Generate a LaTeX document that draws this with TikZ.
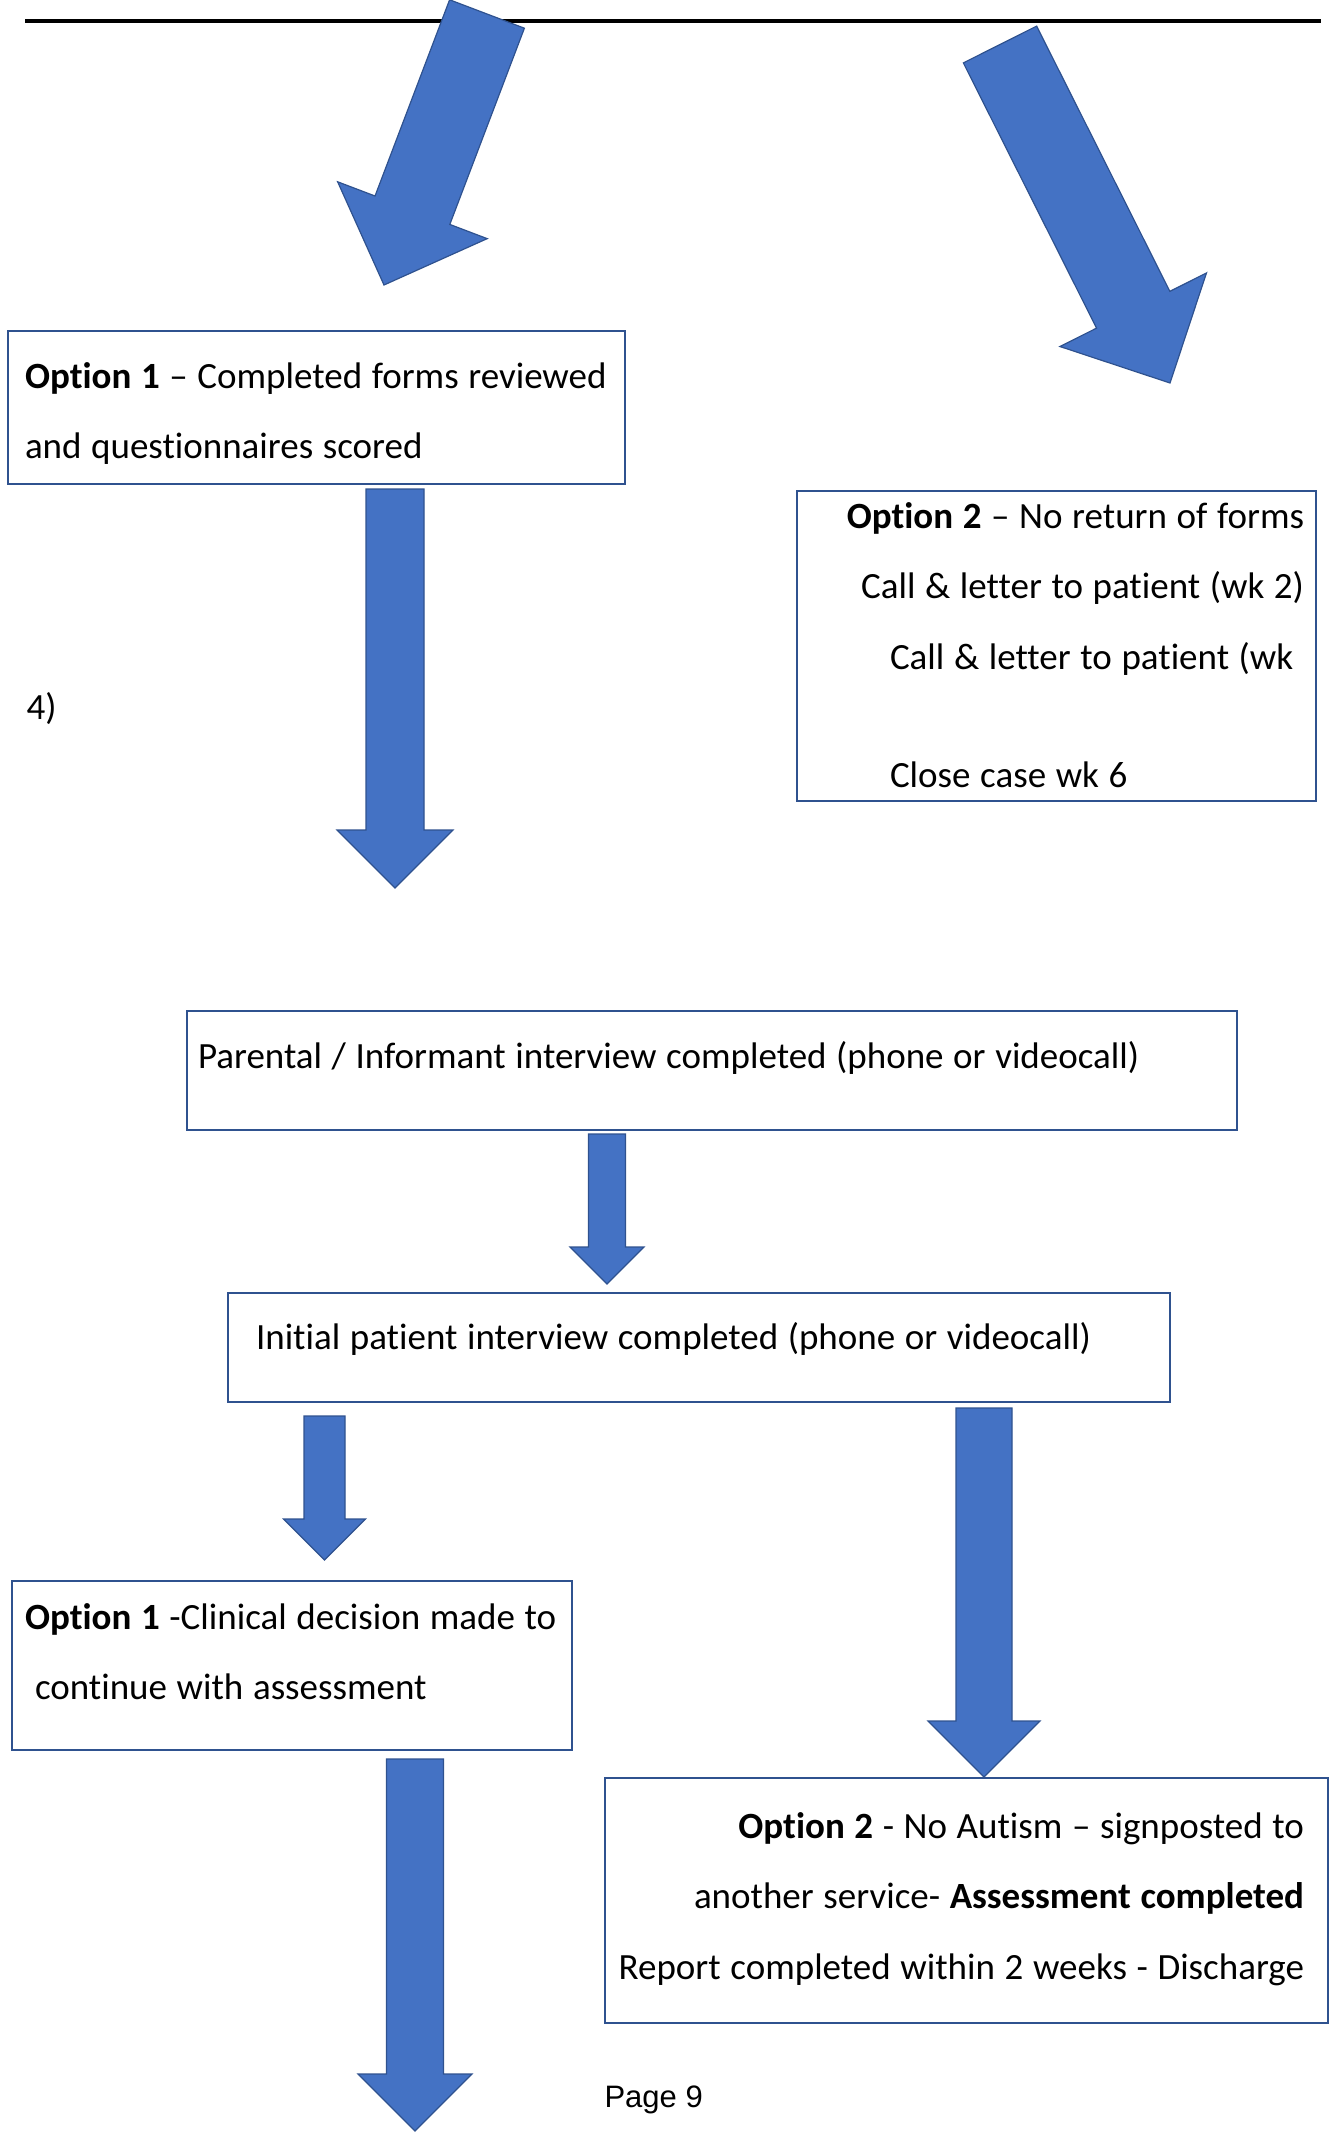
\documentclass[tikz,border=0pt]{standalone}
\usepackage{fontspec}
\setmainfont{Carlito}[Ligatures={TeX,NoCommon}]
\newfontfamily\arialfont{Liberation Sans}
\usetikzlibrary{calc}
\definecolor{cBlue}{HTML}{4472C4}
\definecolor{cEdge}{HTML}{2F528F}
\newcommand{\flowfont}{\fontsize{37}{70.5}\selectfont}
\tikzset{
  flowbox/.style={draw=cEdge,line width=2pt,fill=white,anchor=north west,inner ysep=0pt,font=\flowfont,
    execute at begin node={\spaceskip=0.26em\xspaceskip=0.26em\relax}},
  barrow/.style={fill=cBlue,draw=cEdge,line width=1.2pt,line join=miter},
  loose/.style={anchor=base west,font=\flowfont},
}
\begin{document}
\begin{tikzpicture}[x=1pt,y=-1pt]
  \useasboundingbox (0,0) rectangle (1330,2132);
  \coordinate (rulel) at (25,21);
  \coordinate (ruler) at (1321,21);
  \draw[line width=3.5pt] (rulel) -- (ruler);

  \node[flowbox,align=left,inner xsep=17pt,text width=583pt,text height=57pt,text depth=96pt] (opt1) at (7,330)
    {\mbox{\textbf{Option 1} -- Completed forms reviewed}\\and questionnaires scored};
  \node[flowbox,align=left,inner xsep=12pt,text width=495pt,text height=37pt,text depth=273pt] (opt2) at (796,490)
    {\hspace*{\fill}\mbox{\textbf{Option 2} -- No return of forms}\\
     \hspace*{\fill}\mbox{Call \& letter to patient (wk 2)}\\
     \hspace*{81pt}\mbox{Call \& letter to patient (wk}\\[47.5pt]
     \hspace*{81pt}Close case wk 6};
  \node[loose] (wkfour) at (23,719) {4)};
  \node[flowbox,align=left,inner xsep=11pt,text width=1028pt,text height=57pt,text depth=62pt] (parent) at (186,1010)
    {Parental / Informant interview completed (phone or videocall)};
  \node[flowbox,align=left,inner xsep=28pt,text width=886pt,text height=56pt,text depth=53pt] (initial) at (227,1292)
    {Initial patient interview completed (phone or videocall)};
  \node[flowbox,align=left,inner xsep=13pt,text width=534pt,text height=48pt,text depth=121pt] (cont) at (11,1580)
    {\mbox{\textbf{Option 1} -Clinical decision made to}\\\hspace*{10pt}continue with assessment};
  \node[flowbox,align=right,inner xsep=13pt,text width=697pt,text height=60pt,text depth=185pt,
    execute at begin node={\rightskip=11pt}] (noasd) at (604,1777)
    {\mbox{\textbf{Option 2} - No Autism -- signposted to}\\
     \mbox{another service- \textbf{Assessment completed}}\\
     \mbox{Report completed within 2 weeks - Discharge}};
  \node[anchor=base west,font=\arialfont\fontsize{31}{37}\selectfont] (page) at (601,2107) {Page 9};

  \coordinate (t1) at (487,14);     \coordinate (h1) at (384,285);
  \coordinate (t2) at (1000,44.5);  \coordinate (h2) at (1170,383);
  \coordinate (t3) at (395,489);    \coordinate (h3) at (395,888);
  \coordinate (t4) at (607,1134);   \coordinate (h4) at (607,1284);
  \coordinate (t5) at (324.5,1416); \coordinate (h5) at (324.5,1560);
  \coordinate (t6) at (984,1408);   \coordinate (h6) at (noasd.north -| t6);
  \coordinate (t7) at (415,1759);   \coordinate (h7) at (415,2131);
  \foreach \s/\e/\w in {t1/h1/40,t2/h2/41,t3/h3/29,t4/h4/18.5,t5/h5/20.5,t6/h6/28,t7/h7/28.5}{
    \coordinate (hb) at ($(\e)!2*\w pt!(\s)$);
    \filldraw[barrow] ($(\s)!\w pt!90:(\e)$) -- ($(hb)!\w pt!90:(\e)$) -- ($(hb)!2*\w pt!90:(\e)$) -- (\e)
      -- ($(hb)!2*\w pt!-90:(\e)$) -- ($(hb)!\w pt!-90:(\e)$) -- ($(\s)!\w pt!-90:(\e)$) -- cycle;
  }
\end{tikzpicture}
\end{document}
